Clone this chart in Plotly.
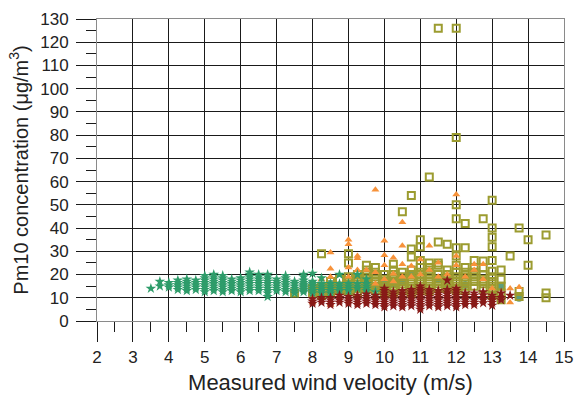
import plotly.graph_objects as go

# ---- data: columns of points (x value -> list of y values) ----
star_green_x = [3.5, 3.75, 4.0, 4.25, 4.5, 4.75, 5.0, 5.25, 5.5, 5.75, 6.0, 6.25, 6.5, 6.75,
                7.0, 7.25, 7.5, 7.75, 8.0, 8.25, 8.5, 8.75, 9.0, 9.25, 9.5, 9.75]
star_green_y = [
    [14], [15, 17], [14.5, 15.5, 16.5], [13.5, 14.5, 15.5, 16.5, 17.5],
    [13, 14, 15, 16, 17, 18], [13.5, 14.5, 15.5, 16.5, 17.5],
    [12.5, 13.5, 14.5, 15.5, 16.5, 17.5, 18.5, 19.5], [13, 14, 15, 16, 17, 18, 19, 20],
    [12.5, 13.5, 14.5, 15.5, 16.5, 17.5, 18.5, 19.5], [13, 14, 15, 16, 17, 18],
    [12.5, 13.5, 14.5, 15.5, 16.5, 17.5, 18.5], [13, 14, 15, 16, 17, 18, 19, 20, 21],
    [13, 14, 15, 16, 17, 18, 19, 20], [10.5, 12, 13, 14, 15, 16, 17, 18, 19, 20],
    [13, 14, 15, 16, 17, 18], [12.5, 13.5, 14.5, 15.5, 16.5, 17.5, 18.5, 19.5],
    [12, 13, 14, 15, 16, 17], [12.5, 13.5, 14.5, 15.5, 16.5, 17.5, 19, 20],
    [12, 13, 14, 15, 16, 17, 20.5], [12, 13, 14, 15, 16, 18.5], [12, 13, 14, 15, 16],
    [13, 14, 15, 16, 20], [13, 14, 15, 16], [14, 15, 16, 20], [13, 14, 15, 16, 18], [12.5],
]

circle_x = [7.75, 8.0, 8.25, 8.5, 8.75, 9.0, 9.25, 9.5, 9.75, 10.0, 10.25, 10.5, 10.75,
            11.5, 11.75, 12.25, 13.25, 13.75]
circle_y = [
    [13.5, 14.5, 15.5], [14, 15, 16], [13.5, 14.5], [14, 15, 16], [14, 15], [14, 15, 16],
    [14.5, 15.5], [15, 16], [15], [16], [16, 17], [17], [20], [18], [15.5], [15.5], [15], [10],
]

tri_x = [8.0, 8.25, 8.5, 8.75, 9.0, 9.25, 9.5, 9.75, 10.0, 10.25, 10.5, 10.75, 11.0, 11.25,
         11.5, 11.75, 12.0, 12.25, 12.5, 12.75, 13.0, 13.5, 13.75]
tri_y = [
    [8, 11, 15], [18, 12], [29.5, 22.5, 19, 14, 7], [15, 12], [35, 33, 23, 19, 14],
    [28, 27, 22, 16], [22, 17], [56.5, 21, 16], [34.5, 28.3, 24, 18], [27.2, 20.3, 17],
    [42.5, 32.4, 24.4, 19], [23.7, 19], [26.5, 20], [32.4, 22], [25.1, 19], [20],
    [54.5, 28, 24, 14], [19], [24.4, 22], [24.4, 18], [14], [14, 8], [14.5],
]

square_x = [7.5, 8.0, 8.25, 8.5, 8.75, 9.0, 9.25, 9.5, 9.75, 10.0, 10.25, 10.5, 10.75, 11.0,
            11.25, 11.5, 11.75, 12.0, 12.25, 12.5, 12.75, 13.0, 13.25, 13.5, 13.75, 14.0, 14.5]
square_y = [
    [12], [12, 14], [29, 15, 11], [17, 14, 12], [18, 15, 13], [29, 25, 19, 17, 15, 13],
    [20, 18, 16, 14, 12], [24, 22, 20, 18, 16, 14], [23, 21, 19, 17, 15, 13],
    [20, 18, 16, 14, 12], [24.4, 22, 20, 18, 16, 14, 12], [47, 21, 19, 17, 15, 13],
    [54, 31, 27.5, 22, 20, 18, 16, 14, 12], [35, 32, 26, 23, 21, 19, 17, 15, 13],
    [62, 25, 23, 21, 19, 17, 15, 13], [126, 34, 25, 24, 20, 18, 16, 14],
    [33, 22, 20, 18, 16, 14], [126, 79, 50, 44, 31.5, 28, 24, 21, 19, 17, 15, 13],
    [42, 31.5, 23, 21, 19, 17, 15, 13], [26, 23, 21, 19, 17, 15],
    [44, 25.8, 22.8, 20, 18, 16, 14], [52, 40, 36, 32, 26, 21.4, 19, 17, 15, 13, 11],
    [22, 18, 15, 12, 9.2], [28], [40, 12.7, 10.6], [35, 24], [37, 12, 10],
]

star_red_x = [8.0, 8.25, 8.5, 8.75, 9.0, 9.25, 9.5, 9.75, 10.0, 10.25, 10.5, 10.75, 11.0,
              11.25, 11.5, 11.75, 12.0, 12.25, 12.5, 12.75, 13.0, 13.25, 13.5]
star_red_y = [
    [7.5, 8.5, 9.5], [8, 9, 10], [7, 8, 9, 10], [8, 9, 10, 11], [7.5, 8.5, 9.5, 10.5],
    [7, 8, 9, 10, 11], [7.5, 8.5, 9.5, 10.5, 11.5], [7, 8, 9, 10, 11],
    [6, 7, 8, 9, 10, 11, 12, 13, 14], [6.5, 7.5, 8.5, 9.5, 10.5, 11.5, 12.5],
    [6, 7, 8, 9, 10, 11, 12, 13], [6.5, 7.5, 8.5, 9.5, 10.5, 11.5, 12.5, 13.5],
    [5, 6, 7, 8, 9, 10, 11, 12, 13, 14, 15], [6.5, 7.5, 8.5, 9.5, 10.5, 11.5, 12.5, 13.5],
    [6, 7, 8, 9, 10, 11, 12, 13], [6.5, 7.5, 8.5, 9.5, 10.5, 11.5, 12.5, 13.5, 17.5],
    [6, 7, 8, 9, 10, 11, 12, 13, 14], [7, 8, 9, 10, 11, 12], [7, 8, 9, 10, 11, 12],
    [7.8, 9, 10, 11.2, 12.5], [6.7, 8, 9, 10, 11], [9, 10, 12], [11],
]

x_ticks = list(range(2, 16))
y_ticks = list(range(0, 131, 10))


def flatten(xs, ys):
    fx, fy = [], []
    for xv, col in zip(xs, ys):
        for yv in col:
            fx.append(xv)
            fy.append(yv)
    return fx, fy


fig = go.Figure()

cx, cy = flatten(circle_x, circle_y)
fig.add_trace(go.Scatter(x=cx, y=cy, mode="markers",
                         marker=dict(symbol="circle", size=8, color="#5e9e7c")))
sx, sy = flatten(square_x, square_y)
fig.add_trace(go.Scatter(x=sx, y=sy, mode="markers",
                         marker=dict(symbol="square-open", size=7, color="#9c9c30",
                                     line=dict(width=2, color="#9c9c30"))))
tx, ty = flatten(tri_x, tri_y)
fig.add_trace(go.Scatter(x=tx, y=ty, mode="markers",
                         marker=dict(symbol="triangle-up", size=7, color="#f7923a")))
gx, gy = flatten(star_green_x, star_green_y)
fig.add_trace(go.Scatter(x=gx, y=gy, mode="markers",
                         marker=dict(symbol="star", size=8, color="#2e9c6a")))
rx, ry = flatten(star_red_x, star_red_y)
fig.add_trace(go.Scatter(x=rx, y=ry, mode="markers",
                         marker=dict(symbol="star", size=8, color="#881a18")))

axis_font = dict(family="Liberation Sans, Arial, sans-serif", size=17, color="#222")
xtitle_font = dict(family="Liberation Sans, Arial, sans-serif", size=22, color="#222")
ytitle_font = dict(family="Liberation Sans, Arial, sans-serif", size=20, color="#222")

fig.update_layout(
    width=583, height=401,
    margin=dict(l=97, r=17, t=10, b=79),
    paper_bgcolor="white", plot_bgcolor="white",
    showlegend=False,
    xaxis=dict(range=[2, 15], tickvals=x_ticks, ticktext=[str(v) for v in x_ticks],
               showgrid=True, gridcolor="#1a1a1a", gridwidth=1,
               ticks="outside", ticklen=20, tickcolor="#1a1a1a", tickwidth=1,
               minor=dict(dtick=0.5, ticks="outside", ticklen=10, tickcolor="#1a1a1a",
                          showgrid=False),
               showline=True, mirror=True, linecolor="#8a8a8a", linewidth=1,
               zeroline=False, tickfont=axis_font, ticklabelstandoff=1,
               title=dict(text="Measured wind velocity (m/s)", font=xtitle_font, standoff=8)),
    yaxis=dict(range=[0, 130], tickvals=y_ticks, ticktext=[str(v) for v in y_ticks],
               showgrid=True, gridcolor="#1a1a1a", gridwidth=1,
               ticks="outside", ticklen=20, tickcolor="#1a1a1a", tickwidth=1,
               minor=dict(dtick=5, ticks="outside", ticklen=10, tickcolor="#1a1a1a",
                          showgrid=False),
               showline=True, mirror=True, linecolor="#8a8a8a", linewidth=1,
               zeroline=False, tickfont=axis_font, ticklabelstandoff=4,
               title=dict(text="Pm10 concentration (μg/m<sup>3</sup>)", font=ytitle_font,
                          standoff=6)),
)

fig.write_html("out.html")
